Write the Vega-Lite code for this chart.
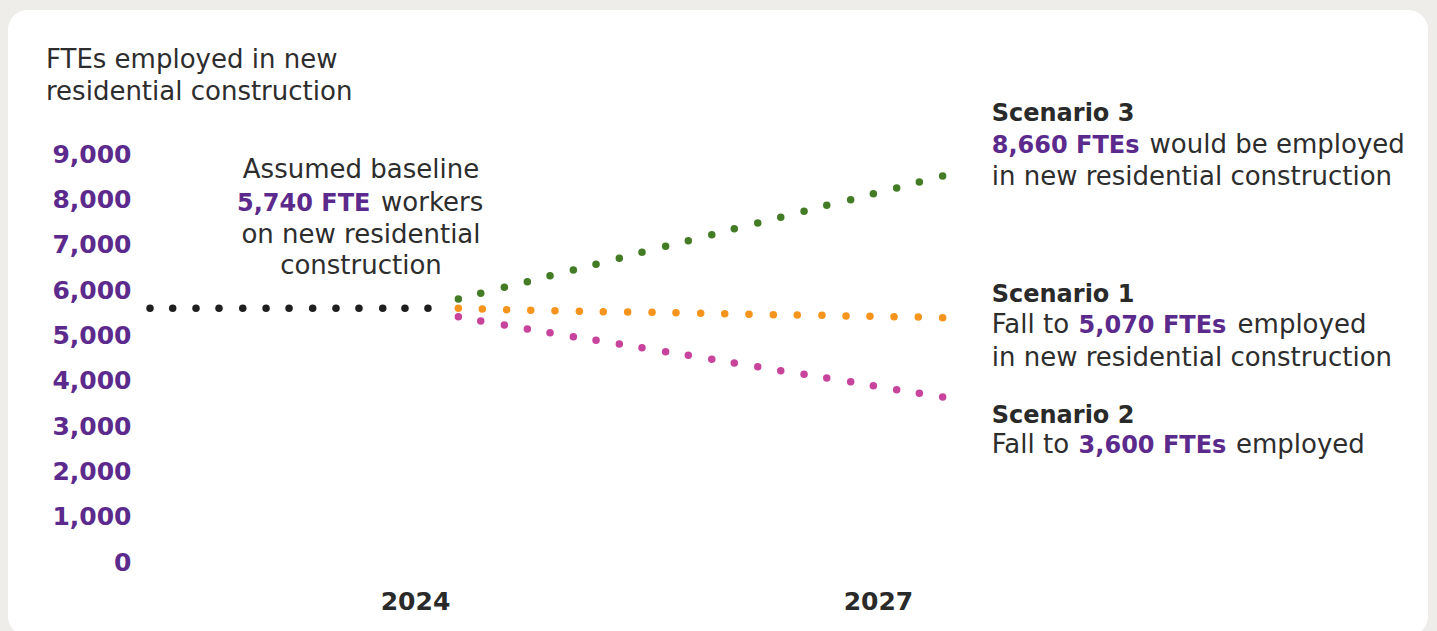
{
  "$schema": "https://vega.github.io/schema/vega-lite/v6.json",
  "autosize": "none",
  "padding": {"left": 8, "top": 10, "right": 9, "bottom": 0},
  "width": 1420,
  "height": 626,
  "background": "#eeede9",
  "config": {
    "view": {"fill": "#ffffff", "stroke": null, "cornerRadius": 20},
    "font": "DejaVu Sans"
  },
  "datasets": {
    "dots": [
      {"series": "Baseline", "t": 2022.283, "v": 5600},
      {"series": "Baseline", "t": 2022.430, "v": 5600},
      {"series": "Baseline", "t": 2022.581, "v": 5600},
      {"series": "Baseline", "t": 2022.730, "v": 5600},
      {"series": "Baseline", "t": 2022.884, "v": 5600},
      {"series": "Baseline", "t": 2023.035, "v": 5600},
      {"series": "Baseline", "t": 2023.184, "v": 5600},
      {"series": "Baseline", "t": 2023.337, "v": 5600},
      {"series": "Baseline", "t": 2023.488, "v": 5600},
      {"series": "Baseline", "t": 2023.637, "v": 5600},
      {"series": "Baseline", "t": 2023.791, "v": 5600},
      {"series": "Baseline", "t": 2023.935, "v": 5600},
      {"series": "Baseline", "t": 2024.084, "v": 5600},
      {"series": "Scenario 3", "t": 2024.281, "v": 5802},
      {"series": "Scenario 3", "t": 2024.426, "v": 5927},
      {"series": "Scenario 3", "t": 2024.579, "v": 6060},
      {"series": "Scenario 3", "t": 2024.728, "v": 6183},
      {"series": "Scenario 3", "t": 2024.875, "v": 6316},
      {"series": "Scenario 3", "t": 2025.026, "v": 6441},
      {"series": "Scenario 3", "t": 2025.173, "v": 6567},
      {"series": "Scenario 3", "t": 2025.324, "v": 6699},
      {"series": "Scenario 3", "t": 2025.471, "v": 6832},
      {"series": "Scenario 3", "t": 2025.624, "v": 6964},
      {"series": "Scenario 3", "t": 2025.771, "v": 7088},
      {"series": "Scenario 3", "t": 2025.923, "v": 7220},
      {"series": "Scenario 3", "t": 2026.069, "v": 7352},
      {"series": "Scenario 3", "t": 2026.221, "v": 7478},
      {"series": "Scenario 3", "t": 2026.370, "v": 7604},
      {"series": "Scenario 3", "t": 2026.521, "v": 7736},
      {"series": "Scenario 3", "t": 2026.668, "v": 7868},
      {"series": "Scenario 3", "t": 2026.823, "v": 7992},
      {"series": "Scenario 3", "t": 2026.970, "v": 8124},
      {"series": "Scenario 3", "t": 2027.121, "v": 8250},
      {"series": "Scenario 3", "t": 2027.268, "v": 8382},
      {"series": "Scenario 3", "t": 2027.419, "v": 8515},
      {"series": "Scenario 1", "t": 2024.281, "v": 5596},
      {"series": "Scenario 1", "t": 2024.436, "v": 5581},
      {"series": "Scenario 1", "t": 2024.594, "v": 5566},
      {"series": "Scenario 1", "t": 2024.750, "v": 5552},
      {"series": "Scenario 1", "t": 2024.907, "v": 5543},
      {"series": "Scenario 1", "t": 2025.065, "v": 5530},
      {"series": "Scenario 1", "t": 2025.220, "v": 5521},
      {"series": "Scenario 1", "t": 2025.378, "v": 5515},
      {"series": "Scenario 1", "t": 2025.536, "v": 5508},
      {"series": "Scenario 1", "t": 2025.691, "v": 5499},
      {"series": "Scenario 1", "t": 2025.851, "v": 5486},
      {"series": "Scenario 1", "t": 2026.007, "v": 5477},
      {"series": "Scenario 1", "t": 2026.164, "v": 5464},
      {"series": "Scenario 1", "t": 2026.322, "v": 5455},
      {"series": "Scenario 1", "t": 2026.477, "v": 5449},
      {"series": "Scenario 1", "t": 2026.637, "v": 5442},
      {"series": "Scenario 1", "t": 2026.793, "v": 5427},
      {"series": "Scenario 1", "t": 2026.948, "v": 5420},
      {"series": "Scenario 1", "t": 2027.104, "v": 5411},
      {"series": "Scenario 1", "t": 2027.261, "v": 5404},
      {"series": "Scenario 1", "t": 2027.419, "v": 5389},
      {"series": "Scenario 2", "t": 2024.281, "v": 5411},
      {"series": "Scenario 2", "t": 2024.426, "v": 5316},
      {"series": "Scenario 2", "t": 2024.579, "v": 5228},
      {"series": "Scenario 2", "t": 2024.728, "v": 5140},
      {"series": "Scenario 2", "t": 2024.875, "v": 5058},
      {"series": "Scenario 2", "t": 2025.026, "v": 4970},
      {"series": "Scenario 2", "t": 2025.173, "v": 4890},
      {"series": "Scenario 2", "t": 2025.324, "v": 4809},
      {"series": "Scenario 2", "t": 2025.471, "v": 4727},
      {"series": "Scenario 2", "t": 2025.624, "v": 4639},
      {"series": "Scenario 2", "t": 2025.771, "v": 4560},
      {"series": "Scenario 2", "t": 2025.923, "v": 4471},
      {"series": "Scenario 2", "t": 2026.069, "v": 4390},
      {"series": "Scenario 2", "t": 2026.221, "v": 4308},
      {"series": "Scenario 2", "t": 2026.370, "v": 4220},
      {"series": "Scenario 2", "t": 2026.521, "v": 4140},
      {"series": "Scenario 2", "t": 2026.668, "v": 4059},
      {"series": "Scenario 2", "t": 2026.823, "v": 3977},
      {"series": "Scenario 2", "t": 2026.970, "v": 3889},
      {"series": "Scenario 2", "t": 2027.121, "v": 3801},
      {"series": "Scenario 2", "t": 2027.268, "v": 3721},
      {"series": "Scenario 2", "t": 2027.419, "v": 3640}
    ],
    "notes": [
      {"role": "caption", "text": "FTEs employed in new", "t": 2021.609, "v": 10897},
      {"role": "caption", "text": "residential construction", "t": 2021.609, "v": 10191},
      {"role": "centered", "text": "Assumed baseline", "t": 2023.650, "v": 8464},
      {"role": "centered", "text": "on new residential", "t": 2023.650, "v": 7043},
      {"role": "centered", "text": "construction", "t": 2023.650, "v": 6353},
      {"role": "figure", "text": "5,740 FTE", "t": 2022.847, "v": 7749},
      {"role": "caption", "text": "workers", "t": 2023.780, "v": 7749},
      {"role": "heading", "text": "Scenario 3", "t": 2027.737, "v": 9735},
      {"role": "figure", "text": "8,660 FTEs", "t": 2027.737, "v": 9029},
      {"role": "caption", "text": "would be employed", "t": 2028.760, "v": 9029},
      {"role": "caption", "text": "in new residential construction", "t": 2027.737, "v": 8316},
      {"role": "heading", "text": "Scenario 1", "t": 2027.737, "v": 5742},
      {"role": "caption", "text": "Fall to", "t": 2027.737, "v": 5045},
      {"role": "figure", "text": "5,070 FTEs", "t": 2028.300, "v": 5045},
      {"role": "caption", "text": "employed", "t": 2029.330, "v": 5045},
      {"role": "caption", "text": "in new residential construction", "t": 2027.737, "v": 4324},
      {"role": "heading", "text": "Scenario 2", "t": 2027.737, "v": 3073},
      {"role": "caption", "text": "Fall to", "t": 2027.737, "v": 2398},
      {"role": "figure", "text": "3,600 FTEs", "t": 2028.300, "v": 2398},
      {"role": "caption", "text": "employed", "t": 2029.320, "v": 2398}
    ]
  },
  "encoding": {
    "x": {
      "field": "t", "type": "quantitative",
      "scale": {"domain": [2021.3628, 2030.5639], "nice": false, "zero": false},
      "axis": {
        "values": [2024, 2027], "format": "d", "title": null,
        "domain": false, "ticks": false, "grid": false,
        "labelFont": "DejaVu Sans", "labelFontWeight": "bold", "labelFontSize": 25,
        "labelColor": "#2a2a2a", "labelBaseline": "alphabetic",
        "labelPadding": 0, "offset": -27, "labelOverlap": false, "labelFlush": false
      }
    },
    "y": {
      "field": "v", "type": "quantitative",
      "scale": {"domain": [-1632, 12176.5], "nice": false, "zero": false},
      "axis": {
        "values": [0, 1000, 2000, 3000, 4000, 5000, 6000, 7000, 8000, 9000],
        "format": ",d", "title": null,
        "domain": false, "ticks": false, "grid": false,
        "labelFont": "DejaVu Sans", "labelFontWeight": "bold", "labelFontSize": 25,
        "labelColor": "#5b2a8c", "labelPadding": 0, "offset": -123,
        "labelOverlap": false, "labelFlush": false
      }
    }
  },
  "layer": [
    {
      "data": {"name": "dots"},
      "mark": {"type": "circle", "size": 56, "opacity": 1},
      "encoding": {
        "color": {
          "field": "series", "type": "nominal",
          "scale": {"domain": ["Baseline", "Scenario 3", "Scenario 1", "Scenario 2"],
                    "range": ["#1f1f1f", "#437c25", "#f7941d", "#c8449c"]},
          "legend": null
        }
      }
    },
    {
      "data": {"name": "notes"},
      "transform": [{"filter": "datum.role === 'caption'"}],
      "mark": {"type": "text", "align": "left", "baseline": "alphabetic", "font": "DejaVu Sans", "fontSize": 26, "color": "#2d2d2d"},
      "encoding": {"text": {"field": "text"}}
    },
    {
      "data": {"name": "notes"},
      "transform": [{"filter": "datum.role === 'centered'"}],
      "mark": {"type": "text", "align": "center", "baseline": "alphabetic", "font": "DejaVu Sans", "fontSize": 26, "color": "#2d2d2d"},
      "encoding": {"text": {"field": "text"}}
    },
    {
      "data": {"name": "notes"},
      "transform": [{"filter": "datum.role === 'heading'"}],
      "mark": {"type": "text", "align": "left", "baseline": "alphabetic", "font": "DejaVu Sans", "fontSize": 24, "fontWeight": "bold", "color": "#2a2a2a"},
      "encoding": {"text": {"field": "text"}}
    },
    {
      "data": {"name": "notes"},
      "transform": [{"filter": "datum.role === 'figure'"}],
      "mark": {"type": "text", "align": "left", "baseline": "alphabetic", "font": "DejaVu Sans", "fontSize": 24, "fontWeight": "bold", "color": "#5b2a8c"},
      "encoding": {"text": {"field": "text"}}
    }
  ]
}
